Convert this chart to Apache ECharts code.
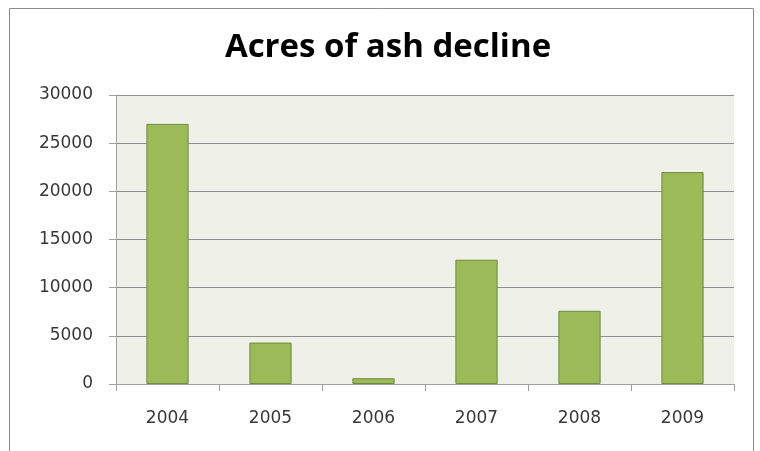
<!DOCTYPE html>
<html>
<head>
<meta charset="utf-8">
<script src="https://cdn.jsdelivr.net/npm/echarts@6/dist/echarts.min.js"></script>
<style>
  html, body { margin: 0; padding: 0; background: #ffffff; }
  #chart { width: 760px; height: 451px; }
</style>
</head>
<body>
<div id="chart"></div>
<script>
// Acres of ash decline per year
var years = ['2004', '2005', '2006', '2007', '2008', '2009'];
var acres = [27000, 4300, 600, 12900, 7600, 22000];
var yMin = 0;
var yMax = 30000;
var yStep = 5000;

var chart = echarts.init(document.getElementById('chart'));
chart.setOption({
  animation: false,
  backgroundColor: '#ffffff',
  title: {
    text: 'Acres of ash decline',
    left: 383,
    textAlign: 'center',
    top: 26,
    textStyle: {
      fontFamily: 'Open Sans',
      fontSize: 33,
      fontWeight: 'bold',
      color: '#000000'
    }
  },
  graphic: [{
    type: 'rect',
    shape: { x: 9.5, y: 8.5, width: 744, height: 470 },
    style: { fill: null, stroke: '#8c8c8c', lineWidth: 1 },
    silent: true,
    z: -1
  }],
  grid: {
    left: 116,
    right: 26,
    top: 95,
    bottom: 67,
    show: true,
    backgroundColor: '#eff1e9',
    borderWidth: 0
  },
  xAxis: {
    type: 'category',
    data: years,
    boundaryGap: true,
    axisLine: { show: true, lineStyle: { color: '#a0a0a0', width: 1 } },
    axisTick: { show: true, alignWithLabel: false, length: 7, lineStyle: { color: '#a0a0a0' } },
    axisLabel: { margin: 26, fontFamily: 'DejaVu Sans', fontSize: 17, color: '#383838' },
    splitLine: { show: false }
  },
  yAxis: {
    type: 'value',
    min: yMin,
    max: yMax,
    interval: yStep,
    axisLine: { show: true, lineStyle: { color: '#a0a0a0', width: 1 } },
    axisTick: { show: true, length: 7, lineStyle: { color: '#a0a0a0' } },
    axisLabel: {
      margin: 23,
      fontFamily: 'DejaVu Sans',
      fontSize: 17,
      color: '#383838',
      formatter: function (v) { return String(v); }
    },
    splitLine: { show: true, lineStyle: { color: '#8f8f8f', width: 1 } }
  },
  series: [{
    type: 'bar',
    data: acres,
    barCategoryGap: '59%',
    itemStyle: {
      color: '#9bbb59',
      borderColor: '#71893f',
      borderWidth: 1
    }
  }]
});
</script>
</body>
</html>
